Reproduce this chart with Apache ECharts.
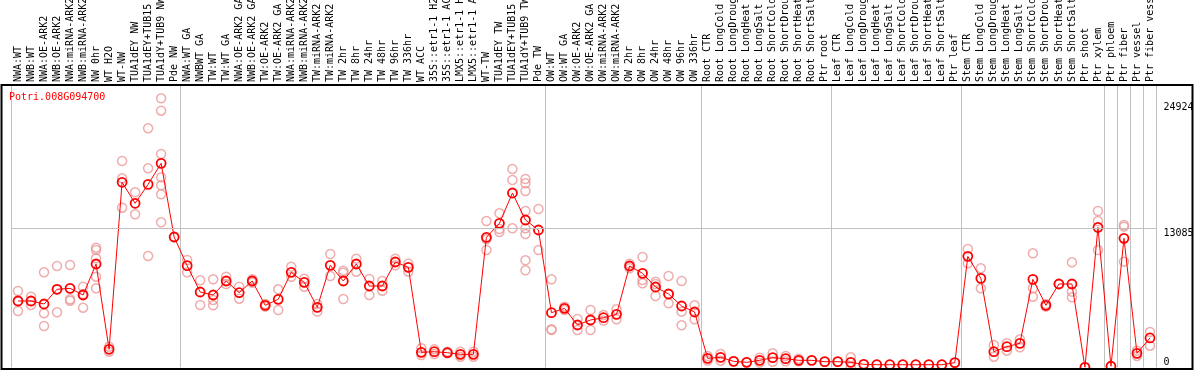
<!DOCTYPE html>
<html><head><meta charset="utf-8">
<script src="https://cdn.jsdelivr.net/npm/echarts@6/dist/echarts.min.js"></script>
<style>html,body{margin:0;padding:0;background:#fff}#c{width:1194px;height:370px}</style>
</head><body><div id="c"></div>
<script>
const geneName = 'Potri.008G094700';

const categories = [
  'NWA:WT','NWB:WT','NWA:OE-ARK2','NWB:OE-ARK2','NWA:miRNA-ARK2','NWB:miRNA-ARK2','NW 0hr','WT H2O','WT-NW','TUA1dEY NW','TUA1dEY+TUB15','TUA1dY+TUB9 NW','Pde NW',
  'NWA:WT GA','NWBWT GA','TW:WT','TW:WT GA','NWA:OE-ARK2 GA','NWB:OE-ARK2 GA','TW:OE-ARK2','TW:OE-ARK2 GA','NWA:miRNA-ARK2','NWB:miRNA-ARK2','TW:miRNA-ARK2','TW:miRNA-ARK2','TW 2hr','TW 8hr','TW 24hr','TW 48hr','TW 96hr','TW 336hr','WT ACC','35S::etr1-1 H2','35S::etr1-1 AC','LMX5::etr1-1 H','LMX5::etr1-1 A','WT-TW','TUA1dEY TW','TUA1dEY+TUB15','TUA1dY+TUB9 TW','Pde TW',
  'OW:WT','OW:WT GA','OW:OE-ARK2','OW:OE-ARK2 GA','OW:miRNA-ARK2','OW:miRNA-ARK2','OW 2hr','OW 8hr','OW 24hr','OW 48hr','OW 96hr','OW 336hr',
  'Root CTR','Root LongCold','Root LongDroug','Root LongHeat','Root LongSalt','Root ShortCold','Root ShortDrou','Root ShortHeat','Root ShortSalt','Ptr root',
  'Leaf CTR','Leaf LongCold','Leaf LongDroug','Leaf LongHeat','Leaf LongSalt','Leaf ShortCold','Leaf ShortDrou','Leaf ShortHeat','Leaf ShortSalt','Ptr leaf',
  'Stem CTR','Stem LongCold','Stem LongDroug','Stem LongHeat','Stem LongSalt','Stem ShortCold','Stem ShortDrou','Stem ShortHeat','Stem ShortSalt','Ptr shoot','Ptr xylem',
  'Ptr phloem','Ptr fiber','Ptr vessel','Ptr fiber vess'
];

const means = [
  6241,6241,5959,7343,7434,6806,9725,1695,17416,15439,17225,19202,12266,
  9565,7089,6806,8124,7023,8124,5834,6399,8940,7999,5646,9600,8124,9725,7654,7654,9913,9411,1409,1469,1374,1221,1221,12235,13553,16409,13867,12925,
  5140,5551,3982,4453,4669,4986,9536,8846,7559,6900,5771,5206,
  844,938,562,468,656,906,812,656,656,530,
  530,470,280,245,245,245,245,245,245,436,
  10447,8375,1469,1939,2256,8282,5834,7842,7842,0,13177,
  100,12141,1315,2761
];

const replicates = [
  [7183,6241,5300],[6649,6241,5865],[8943,5084,3888],[9536,7343,5178],[9631,6402,6270],[7588,6900,5611],
  [11259,11043,10261,8529,7437],[1939,1469],[19421,17792,15025],[16474,14403],[22499,18734,10478],
  [25324,24156,20080,17887,17133,16286,13650],[12266],
  [10101,8943],[8190,5865],[8282,6336,5837],[8529,7842],[7588,6458],[8282,7966],[5960,5710],[7343,5394],
  [9474,8529],[8341,7588],[5960,5238],[10666,8597],[9097,8905,6430],[10228,9000],[8313,6806],[8124,7211],
  [10228,9600],[9760,9000],[1789,1158],[1690,1250],[1469,1310],[1469,1000],[1469,1000],
  [13772,12050,11043],[14498,13019,12737],[18668,17632,13085],[17726,17322,16597,14714,13085,12549,10070,9129],[14902,11043],
  [8282,3575,3512],[5710,5400],[4547,3511],[5394,3511],[4920,4400],[5457,4516],[9320,9750],[10384,8218,7908],
  [8058,7842,6712],[8597,6900,6022],[8124,5238,3951],[5834,4516],
  [1060,640],[1252,620],[562],[468],[900,440],[1315,530],[1060,560],[812,560],[656],[530],
  [530],[941,0],[280],[245],[245],[245],[245],[245],[245],[436],
  [11137,9790],[9320,7437],[2099,998],[2256,1563],[2633,1880],[10729,7437,6649],[5960,5710],[7842],[9882,7121,6587],[0],[14714,13772,11043],
  [100],[13397,13240,9945],[1563,1070],[3326,2036]
];

const groupStarts = [0, 13, 41, 53, 63, 73, 84, 85, 86, 87];
const yTickLabels = [24924, 13085];
const yZeroLabel = [0];
const yGridValue = 13085;
const yMax = 26575;

const repPoints = [];
replicates.forEach((arr, i) => arr.forEach(v => repPoints.push([i, v])));

const chart = echarts.init(document.getElementById('c'), null, {renderer: 'canvas'});
const mono = 'DejaVu Sans Mono';
const sepSet = new Set(groupStarts);
const plain = (v) => String(v);

chart.setOption({
  animation: false,
  backgroundColor: '#ffffff',
  grid: {left: 11.5, right: 37.5, top: 85, bottom: 2.7, containLabel: false, outerBoundsMode: 'none'},
  title: {
    text: geneName, left: 9, top: 92, padding: 0,
    textStyle: {fontFamily: mono, fontSize: 10, fontWeight: 'normal', color: '#ff0000'}
  },
  xAxis: {
    type: 'category', position: 'top', data: categories, boundaryGap: true,
    axisLine: {show: false},
    axisTick: {show: true, interval: (i) => sepSet.has(i), length: 85, lineStyle: {color: '#c0c0c0', width: 1}},
    splitLine: {show: true, interval: (i) => sepSet.has(i), lineStyle: {color: '#c0c0c0', width: 1}},
    axisLabel: {interval: 0, rotate: 90, margin: 3, fontFamily: mono, fontSize: 10, color: '#000'}
  },
  yAxis: [{
    type: 'value', position: 'right', min: 0, max: yMax,
    axisLine: {show: false}, axisTick: {show: false}, splitLine: {show: false},
    axisLabel: {customValues: yTickLabels, formatter: plain, margin: 7, verticalAlign: 'top', fontFamily: mono, fontSize: 10, color: '#000'}
  }, {
    type: 'value', position: 'right', min: 0, max: yMax,
    axisLine: {show: false}, axisTick: {show: false}, splitLine: {show: false},
    axisLabel: {customValues: yZeroLabel, formatter: plain, margin: 7, verticalAlign: 'bottom', fontFamily: mono, fontSize: 10, color: '#000'}
  }],
  graphic: [{
    type: 'rect', z: 100, silent: true,
    shape: {x: 1.5, y: 85, width: 1191, height: 284},
    style: {fill: null, stroke: '#000', lineWidth: 2}
  }],
  series: [{
    type: 'scatter', data: repPoints, z: 2,
    symbol: 'circle', symbolSize: 9,
    itemStyle: {color: 'rgba(0,0,0,0)', borderColor: '#eb9898', borderWidth: 1.5},
    markLine: {
      silent: true, symbol: 'none', label: {show: false},
      lineStyle: {color: '#c0c0c0', type: 'solid', width: 1},
      data: [{yAxis: yGridValue}]
    }
  }, {
    type: 'line', data: means, z: 3,
    symbol: 'circle', symbolSize: 9, showAllSymbol: true,
    lineStyle: {color: '#ff0000', width: 1},
    itemStyle: {color: 'rgba(0,0,0,0)', borderColor: '#ff0000', borderWidth: 1.8}
  }]
});
</script>
</body></html>
